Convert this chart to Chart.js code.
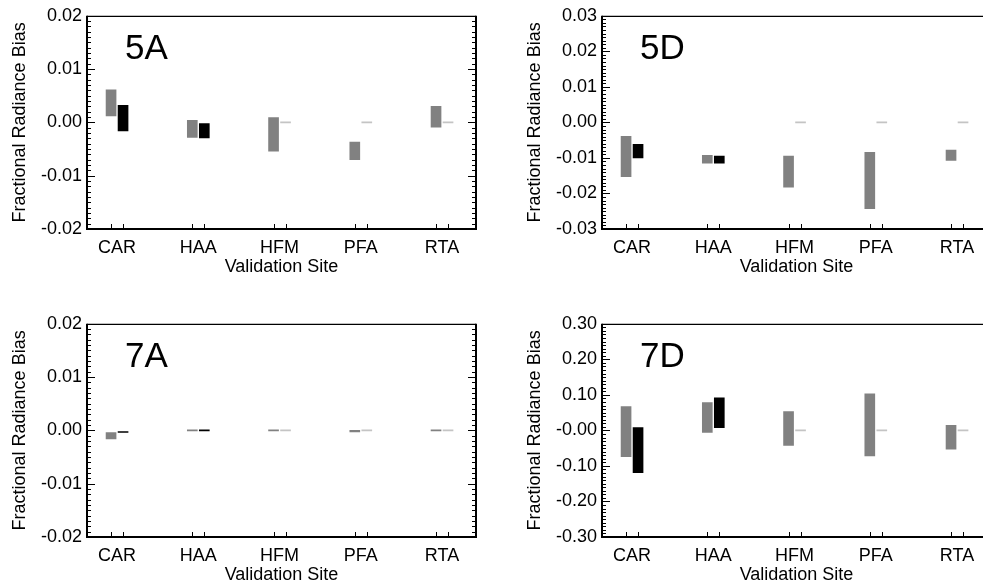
<!DOCTYPE html>
<html>
<head>
<meta charset="utf-8">
<script src="https://cdn.jsdelivr.net/npm/chart.js@4/dist/chart.umd.min.js"></script>
<style>
  html, body { margin: 0; padding: 0; background: #fff; }
  #wrap { position: relative; width: 983px; height: 584px; overflow: hidden; }
  #wrap canvas { position: absolute; }
</style>
</head>
<body>
<div id="wrap">
  <canvas id="p5A" width="490" height="290" style="left:0;top:0"></canvas>
  <canvas id="p5D" width="490" height="290" style="left:515px;top:0"></canvas>
  <canvas id="p7A" width="490" height="290" style="left:0;top:308px"></canvas>
  <canvas id="p7D" width="490" height="290" style="left:515px;top:308px"></canvas>
</div>
<script>
const sites = ['CAR', 'HAA', 'HFM', 'PFA', 'RTA'];

// bias ranges [low, high] per site; null = no data for that site
const gray5A = [[0.0012, 0.0061], [-0.0028, 0.0004], [-0.0054, 0.0009], [-0.0070, -0.0037], [-0.0009, 0.0030]];
const black5A = [[-0.0016, 0.0032], [-0.0029, -0.0002], null, null, null];
const yTicks5A = [-0.02, -0.01, 0, 0.01, 0.02];
const yLabels5A = ['-0.02', '-0.01', '0.00', '0.01', '0.02'];

const gray5D = [[-0.0153, -0.0039], [-0.0115, -0.0093], [-0.0182, -0.0095], [-0.0243, -0.0084], [-0.0107, -0.0078]];
const black5D = [[-0.0100, -0.0062], [-0.0115, -0.0095], null, null, null];
const yTicks5D = [-0.03, -0.02, -0.01, 0, 0.01, 0.02, 0.03];
const yLabels5D = ['-0.03', '-0.02', '-0.01', '0.00', '0.01', '0.02', '0.03'];

const gray7A = [[-0.0016, -0.0004], [-0.0001, 0], [-0.0001, 0], [-0.0003, 0], [-0.0001, 0]];
const black7A = [[-0.0003, -0.0002], [-0.0001, 0], null, null, null];
const yTicks7A = [-0.02, -0.01, 0, 0.01, 0.02];
const yLabels7A = ['-0.02', '-0.01', '0.00', '0.01', '0.02'];

const gray7D = [[-0.074, 0.067], [-0.006, 0.078], [-0.042, 0.053], [-0.072, 0.103], [-0.053, 0.014]];
const black7D = [[-0.119, 0.008], [0.008, 0.092], null, null, null];
const yTicks7D = [-0.30, -0.20, -0.10, 0, 0.10, 0.20, 0.30];
const yLabels7D = ['-0.30', '-0.20', '-0.10', '-0.00', '0.10', '0.20', '0.30'];

const FONT = 'Liberation Sans, Arial, Helvetica, sans-serif';
const GRAY = '#818181';
const EMPTY = '#c4c4c4';
const OFF = 0.0738;   // half distance between the two bars of a site

// box, inward ticks on both y sides, bar ticks on the bottom, panel tag
const framePlugin = {
  id: 'frame',
  afterDraw(chart, args, opts) {
    const { ctx, chartArea: a, scales: { x, y } } = chart;
    const ticks = opts.ticks;
    const step = (ticks[1] - ticks[0]) / 10;
    ctx.save();
    ctx.strokeStyle = '#000';
    ctx.lineWidth = 1;
    ctx.beginPath();
    for (let k = 0; k <= (ticks.length - 1) * 10; k++) {
      const py = Math.round(y.getPixelForValue(ticks[0] + k * step)) + 0.5;
      const len = k % 10 === 0 ? 8 : 4;
      ctx.moveTo(a.left, py); ctx.lineTo(a.left + len, py);
      ctx.moveTo(a.right, py); ctx.lineTo(a.right - len, py);
    }
    sites.forEach((s, i) => {
      [i - OFF, i + OFF].forEach(v => {
        const px = Math.round(x.getPixelForValue(v)) + 0.5;
        ctx.moveTo(px, a.bottom); ctx.lineTo(px, a.bottom - 5);
      });
    });
    ctx.stroke();

    ctx.lineWidth = 2;
    ctx.beginPath();
    ctx.moveTo(a.left, a.top); ctx.lineTo(a.left, a.bottom);
    ctx.lineTo(a.right, a.bottom); ctx.lineTo(a.right, a.top);
    ctx.stroke();
    ctx.lineWidth = 1.2;
    ctx.beginPath();
    ctx.moveTo(a.left, a.top + 0.5); ctx.lineTo(a.right, a.top + 0.5);
    ctx.stroke();

    ctx.fillStyle = '#000';
    ctx.font = '35px ' + FONT;
    ctx.textBaseline = 'alphabetic';
    ctx.fillText(opts.tag, a.left + 38, a.top + 43);
    ctx.restore();
  }
};

function makePanel(id, tag, gray, black, yTicks, yLabels) {
  const H = 290;
  const axisFont = { family: FONT, size: 18 };
  new Chart(document.getElementById(id), {
    type: 'bar',
    data: {
      datasets: [
        {
          data: gray.map((v, i) => v && { x: i - OFF, y: v }).filter(Boolean),
          backgroundColor: GRAY
        },
        {
          data: black.map((v, i) => v && { x: i + OFF, y: v }).filter(Boolean),
          backgroundColor: '#000'
        },
        {
          // sites without a second value get a faint dash on the zero line
          data: black.map((v, i) => v ? null : { x: i + OFF, y: [0, 0] }).filter(Boolean),
          backgroundColor: EMPTY
        }
      ]
    },
    options: {
      responsive: false,
      animation: false,
      datasets: { bar: { grouped: false, barThickness: 10, minBarLength: 1 } },
      layout: { padding: { left: 0, top: 14, right: 14, bottom: 0 } },
      plugins: {
        legend: { display: false },
        tooltip: { enabled: false },
        frame: { ticks: yTicks, tag: tag }
      },
      scales: {
        x: {
          type: 'linear',
          offset: false,
          min: -0.37,
          max: 4.418,
          afterBuildTicks: s => { s.ticks = sites.map((_, i) => ({ value: i })); },
          afterFit: s => { s.height = H - 229; },
          grid: { display: false, drawTicks: false },
          border: { display: false },
          ticks: {
            callback: v => sites[v],
            font: axisFont, color: '#000', padding: 8,
            maxRotation: 0, autoSkip: false
          },
          title: {
            display: true, text: 'Validation Site',
            font: axisFont, color: '#000', padding: { top: 0, bottom: 12 }
          }
        },
        y: {
          min: yTicks[0],
          max: yTicks[yTicks.length - 1],
          afterBuildTicks: s => { s.ticks = yTicks.map(v => ({ value: v })); },
          afterFit: s => { s.width = 87; },
          grid: { display: false, drawTicks: false },
          border: { display: false },
          ticks: {
            callback: (v, i) => yLabels[i],
            font: axisFont, color: '#000', padding: 5
          },
          title: {
            display: true, text: 'Fractional Radiance Bias',
            font: axisFont, color: '#000', padding: { top: 9, bottom: 0 }
          }
        }
      }
    },
    plugins: [framePlugin]
  });
}

makePanel('p5A', '5A', gray5A, black5A, yTicks5A, yLabels5A);
makePanel('p5D', '5D', gray5D, black5D, yTicks5D, yLabels5D);
makePanel('p7A', '7A', gray7A, black7A, yTicks7A, yLabels7A);
makePanel('p7D', '7D', gray7D, black7D, yTicks7D, yLabels7D);
</script>
</body>
</html>
